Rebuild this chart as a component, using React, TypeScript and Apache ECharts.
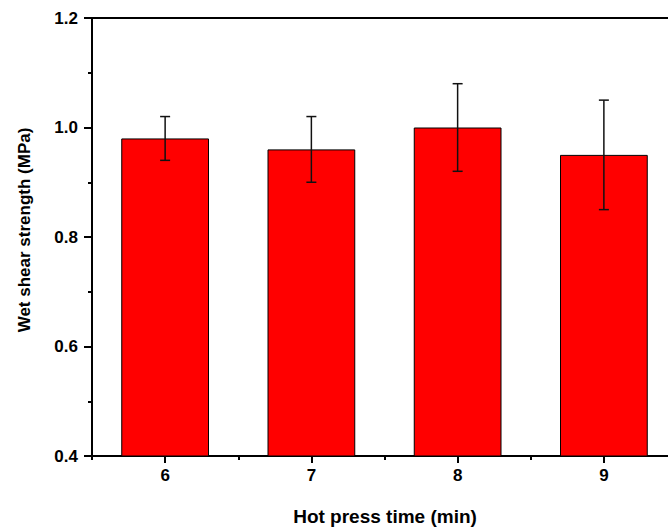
import React, { useEffect, useRef } from "react";
import * as echarts from "echarts";

const categories = ["6", "7", "8", "9"];
const values = [0.98, 0.96, 1.0, 0.95];
const errLow = [0.94, 0.9, 0.92, 0.85];
const errHigh = [1.02, 1.02, 1.08, 1.05];
const yTicks = { min: 0.4, max: 1.2, interval: 0.2 };
const xTitle = "Hot press time (min)";
const yTitle = "Wet shear strength (MPa)";

const FONT = "'Liberation Sans', Arial, Helvetica, sans-serif";

export default function App() {
  const ref = useRef<HTMLDivElement>(null);
  useEffect(() => {
    if (!ref.current) return;
    const chart = echarts.init(ref.current, null, { renderer: "svg" });
    const errData = categories.map((_, i) => [i, errLow[i], errHigh[i]]);
    chart.setOption({
      animation: false,
      backgroundColor: "#fff",
      grid: {
        left: 92,
        top: 18,
        width: 585,
        height: 438,
        show: true,
        borderColor: "#000",
        borderWidth: 2,
        backgroundColor: "transparent",
        containLabel: false,
        outerBoundsMode: "none",
      },
      xAxis: [
        {
          type: "category",
          data: categories,
          boundaryGap: true,
          axisLine: { show: true, lineStyle: { color: "#000", width: 2 } },
          axisTick: { show: true, alignWithLabel: true, length: 7, lineStyle: { color: "#000", width: 2 } },
          axisLabel: {
            color: "#000",
            fontFamily: FONT,
            fontWeight: "bold",
            fontSize: 17,
            margin: 11,
          },
          splitLine: { show: false },
        },
        {
          type: "category",
          data: categories,
          position: "bottom",
          boundaryGap: true,
          axisLine: { show: false },
          axisTick: { show: true, alignWithLabel: false, length: 4, lineStyle: { color: "#000", width: 2 } },
          axisLabel: { show: false },
          splitLine: { show: false },
        },
      ],
      yAxis: {
        type: "value",
        min: yTicks.min,
        max: yTicks.max,
        interval: yTicks.interval,
        axisLine: { show: true, lineStyle: { color: "#000", width: 2 } },
        axisTick: { show: true, length: 8, lineStyle: { color: "#000", width: 2 } },
        minorTick: { show: true, splitNumber: 2, length: 4, lineStyle: { color: "#000", width: 2 } },
        axisLabel: {
          color: "#000",
          fontFamily: FONT,
          fontWeight: "bold",
          fontSize: 17,
          margin: 14,
          formatter: (v: number) => v.toFixed(1),
        },
        splitLine: { show: false },
      },
      graphic: [
        {
          type: "text",
          x: 24,
          y: 230,
          rotation: Math.PI / 2,
          style: {
            text: yTitle,
            fill: "#000",
            font: `bold 17px ${FONT}`,
            textAlign: "center",
            textVerticalAlign: "middle",
          },
        },
        {
          type: "text",
          x: 385,
          y: 516,
          style: {
            text: xTitle,
            fill: "#000",
            font: `bold 19px ${FONT}`,
            textAlign: "center",
            textVerticalAlign: "middle",
          },
        },
      ],
      series: [
        {
          type: "bar",
          data: values,
          barWidth: "60%",
          xAxisIndex: 0,
          itemStyle: { color: "#ff0000", borderColor: "#000", borderWidth: 1 },
        },
        {
          type: "custom",
          data: errData,
          xAxisIndex: 0,
          z: 10,
          renderItem: (params: any, api: any) => {
            const x = api.value(0);
            const lo = api.coord([x, api.value(1)]);
            const hi = api.coord([x, api.value(2)]);
            const cap = 5;
            const style = { stroke: "#111", lineWidth: 1.5 };
            return {
              type: "group",
              children: [
                { type: "line", shape: { x1: hi[0], y1: hi[1], x2: lo[0], y2: lo[1] }, style },
                { type: "line", shape: { x1: hi[0] - cap, y1: hi[1], x2: hi[0] + cap, y2: hi[1] }, style },
                { type: "line", shape: { x1: lo[0] - cap, y1: lo[1], x2: lo[0] + cap, y2: lo[1] }, style },
              ],
            };
          },
        },
      ],
    });
    return () => chart.dispose();
  }, []);
  return (
    <div
      ref={ref}
      style={{ position: "absolute", left: 0, top: 0, width: 668, height: 527 }}
    />
  );
}
